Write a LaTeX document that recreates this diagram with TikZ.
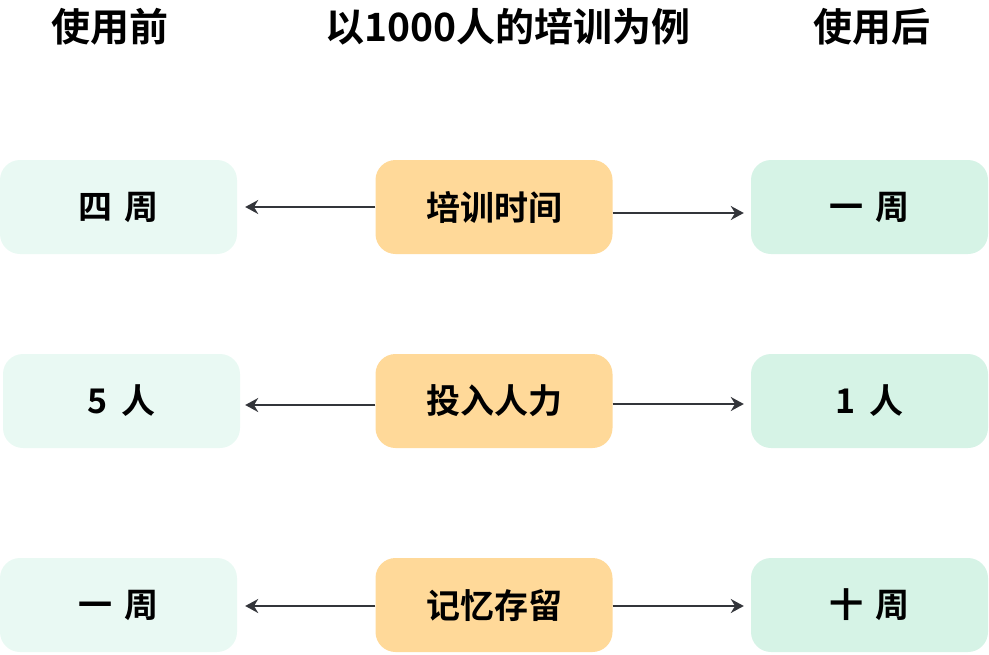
\documentclass[tikz,border=0pt]{standalone}
\usepackage{fontspec}
\setmainfont{Noto Sans CJK SC}
\newfontfamily\cjkbold{Noto Sans CJK SC Bold}
\usetikzlibrary{arrows.meta}
\definecolor{beforeT}{HTML}{E9F9F3}
\definecolor{afterT}{HTML}{D6F3E6}
\definecolor{itemO}{HTML}{FFD999}
\definecolor{arrowG}{HTML}{33353A}

\begin{document}
\begin{tikzpicture}[
  x=1pt, y=-1pt,
  bx/.style={rectangle, rounded corners=20pt, minimum width=237pt, minimum height=94pt, inner sep=0pt, draw=none, font=\fontsize{34}{36}\selectfont\cjkbold},
  hd/.style={font=\fontsize{39}{41}\selectfont\cjkbold, inner sep=0pt},
  arr/.style={-{Stealth[length=13pt,width=14pt]}, line width=2pt, arrowG}
]
\useasboundingbox (0,0) rectangle (989,654);

% Headers
\node[hd] (h1) at (110,27) {使用前};
\node[hd] (h2) at (508,27) {以1000人的培训为例};
\node[hd] (h3) at (872,27) {使用后};

% Row 1
\node[bx, fill=beforeT] (l1) at (118.5,207) {四\hspace{0.35em}周};
\node[bx, fill=itemO] (m1) at (494,207) {培训时间};
\node[bx, fill=afterT] (r1) at (869.5,207) {一\hspace{0.35em}周};
\draw[arr, shorten >=8pt] (m1.west) -- (l1.east);
\draw[arr, shorten >=7pt] ([yshift=-6pt]m1.east) -- ([yshift=-6pt]r1.west);

% Row 2
\node[bx, fill=beforeT] (l2) at (121.5,401) {5\hspace{0.4em}人};
\node[bx, fill=itemO] (m2) at (494,401) {投入人力};
\node[bx, fill=afterT] (r2) at (869.5,401) {1\hspace{0.4em}人};
\draw[arr, shorten >=5pt] ([yshift=-4pt]m2.west) -- ([yshift=-4pt]l2.east);
\draw[arr, shorten >=7pt] ([yshift=-3pt]m2.east) -- ([yshift=-3pt]r2.west);

% Row 3
\node[bx, fill=beforeT] (l3) at (118.5,605) {一\hspace{0.35em}周};
\node[bx, fill=itemO] (m3) at (494,605) {记忆存留};
\node[bx, fill=afterT] (r3) at (869.5,605) {十\hspace{0.35em}周};
\draw[arr, shorten >=8pt] ([yshift=-1pt]m3.west) -- ([yshift=-1pt]l3.east);
\draw[arr, shorten >=7pt] ([yshift=-1pt]m3.east) -- ([yshift=-1pt]r3.west);
\end{tikzpicture}
\end{document}
